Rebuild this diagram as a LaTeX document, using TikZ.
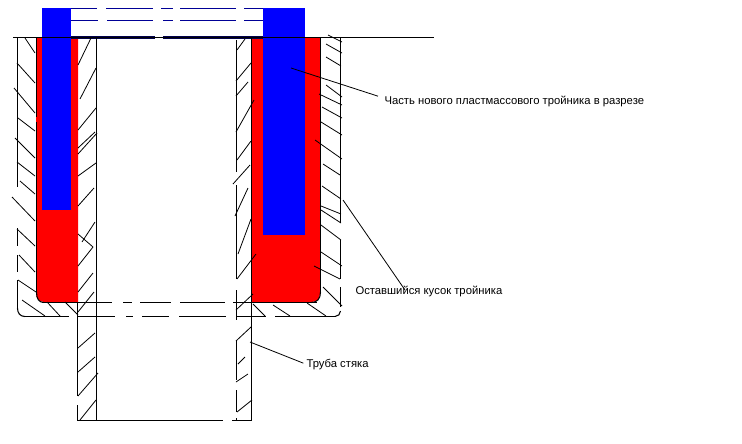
\documentclass[tikz,border=0pt]{standalone}
\usepackage{fontspec}
\setmainfont{Liberation Sans}
\usepackage{xcolor}
\definecolor{edgeblue}{RGB}{0,0,150}
\def\labelsize{\fontsize{8.45}{10}\selectfont}

\begin{document}
\begin{tikzpicture}[x=0.75pt,y=-0.75pt,line width=0.75pt]
    \tikzstyle{hatch}=[draw=black,line width=0.6pt]
    \tikzstyle{wall}=[draw=black,line width=0.8pt]
    \tikzstyle{annot}=[anchor=west,inner sep=0pt,font=\labelsize]
    \tikzstyle{leader}=[draw=black,line width=0.6pt]

    \useasboundingbox (0,0) rectangle (742,443);

    % Draw the red filling
    \fill[red] (36,38) -- (36,293) .. controls (36,299) and (39,302) .. (45,302) -- (78,302) -- (78,38) -- cycle;
    \fill[red] (251,38) -- (251,302) -- (311,302) .. controls (317,302) and (320,299) .. (320,293) -- (320,38) -- cycle;

    % Draw the blue parts
    \fill[blue] (42,8) rectangle (71,210);
    \fill[blue] (263,8) rectangle (305,235);
    \foreach \xa/\xb in {71/97,106/153,161/173,180/236,244/263}
        \draw[edgeblue] (\xa,8.5) -- (\xb,8.5);
    \foreach \xa/\xb in {71/98,107/153,163/173,180/236,244/263}
        \draw[edgeblue] (\xa,20.5) -- (\xb,20.5);
    \draw[black!70!blue,line width=1.6pt] (71,37.5) -- (155,37.5);
    \draw[black!70!blue,line width=1.6pt] (163,37.5) -- (263,37.5);
    \draw[wall] (13,37.5) -- (434,37.5);

    % Draw the vertical walls
    \foreach \px/\ya/\yb in {17.5/38/187,17.5/228/246,17.5/255/272,17.5/280/308,
        36.5/38/117,36.5/122/292,
        96.5/38/420,
        77.5/303/396,77.5/405/420,
        236.5/40/172,236.5/185/279,236.5/290/320,236.5/340/380,236.5/390/412,236.5/418/420,
        251.5/38/420,
        320.5/38/292,
        340.5/37/223,340.5/240/279,340.5/287/307}
        \draw[wall] (\px,\ya) -- (\px,\yb);

    % Draw the horizontal lines with their gaps
    \foreach \py/\xa/\xb in {302.5/42/112,302.5/123/132,302.5/140/171,302.5/180/225,302.5/233/317,
        316.5/25/69,316.5/77/115,316.5/126/133,316.5/142/169,316.5/179/226,316.5/236/266,316.5/275/335,
        420.5/77/223,420.5/232/252}
        \draw[wall] (\xa,\py) -- (\xb,\py);

    % Draw the rounded corners
    \draw[wall] (36.5,292) .. controls (36.5,299) and (39,302.5) .. (44,302.5);
    \draw[wall] (311,302.5) .. controls (317,302.5) and (320.5,299) .. (320.5,292);
    \draw[wall] (17.5,308) .. controls (17.5,313) and (20,316.5) .. (25,316.5);
    \draw[wall] (335,316.5) .. controls (338,316.5) and (340.5,314) .. (340.5,311);

    % Draw the hatching, wall by wall
    \foreach \xa/\ya/\xb/\yb in {25/38/35/53,17/63/35/83,14/88/35/113,18/118/35/131,15/138/35/158,
        17/162/35/176,20/181/35/194,12/197/35/221,17/229/35/246,19/255/35/272,18/280/36/292,
        22/300/45/316,47/302/60/316,65/302/78/315}
        \draw[hatch] (\xa,\ya) -- (\xb,\yb);
    \foreach \xa/\ya/\xb/\yb in {91/38/78/65,96/68/80/99,96/108/78/130,95/132/78/148,97/133/78/154,
        96/163/78/176,94/188/78/206,95/222/82/242,78/234/93/247,93/247/78/266,93/273/78/292,94/292/78/312,
        95/333/78/348,95/357/78/372,98/373/78/396,96/400/80/420}
        \draw[hatch] (\xa,\ya) -- (\xb,\yb);
    \foreach \xa/\ya/\xb/\yb in {245/39/237/50,251/63/236/81,248/82/236/96,254/100/236/132,251/141/237/160,
        250/165/233/184,248/188/235/216,251/219/238/254,256/254/237/279,253/294/236/310,
        251/327/236/341,245/357/238/364,248/374/236/382,252/400/237/412}
        \draw[hatch] (\xa,\ya) -- (\xb,\yb);
    \foreach \xa/\ya/\xb/\yb in {328/35/342/42,326/44/342/53,326/57/341/66,326/85/342/97,319/94/342/105,
        322/107/342/118,321/122/342/135,315/140/342/159,323/164/340/175,322/186/341/199,321/206/341/214,
        321/210/341/223,321/225/341/240,321/252/342/266,314/266/340/279,323/287/342/306,
        307/303/326/316,273/305/290/316,253/304/265/316}
        \draw[hatch] (\xa,\ya) -- (\xb,\yb);

    % Draw the labels and their leaders
    \node[annot] (tee new) at (384,101.5) {Часть нового пластмассового тройника в разрезе};
    \node[annot] (tee old) at (355,291.5) {Оставшийся кусок тройника};
    \node[annot] (pipe) at (306,364.5) {Труба стяка};

    \coordinate (tee new end) at (291,68);
    \coordinate (tee old end) at (343,200);
    \coordinate (tee old foot) at (405,290);
    \coordinate (pipe end) at (250,342);

    \draw[leader] (tee new end) -- ([xshift=-4.5pt,yshift=4pt]tee new.west);
    \draw[leader] (tee old end) -- (tee old foot);
    \draw[leader] (pipe end) -- ([xshift=-2pt,yshift=1pt]pipe.west);
\end{tikzpicture}
\end{document}
